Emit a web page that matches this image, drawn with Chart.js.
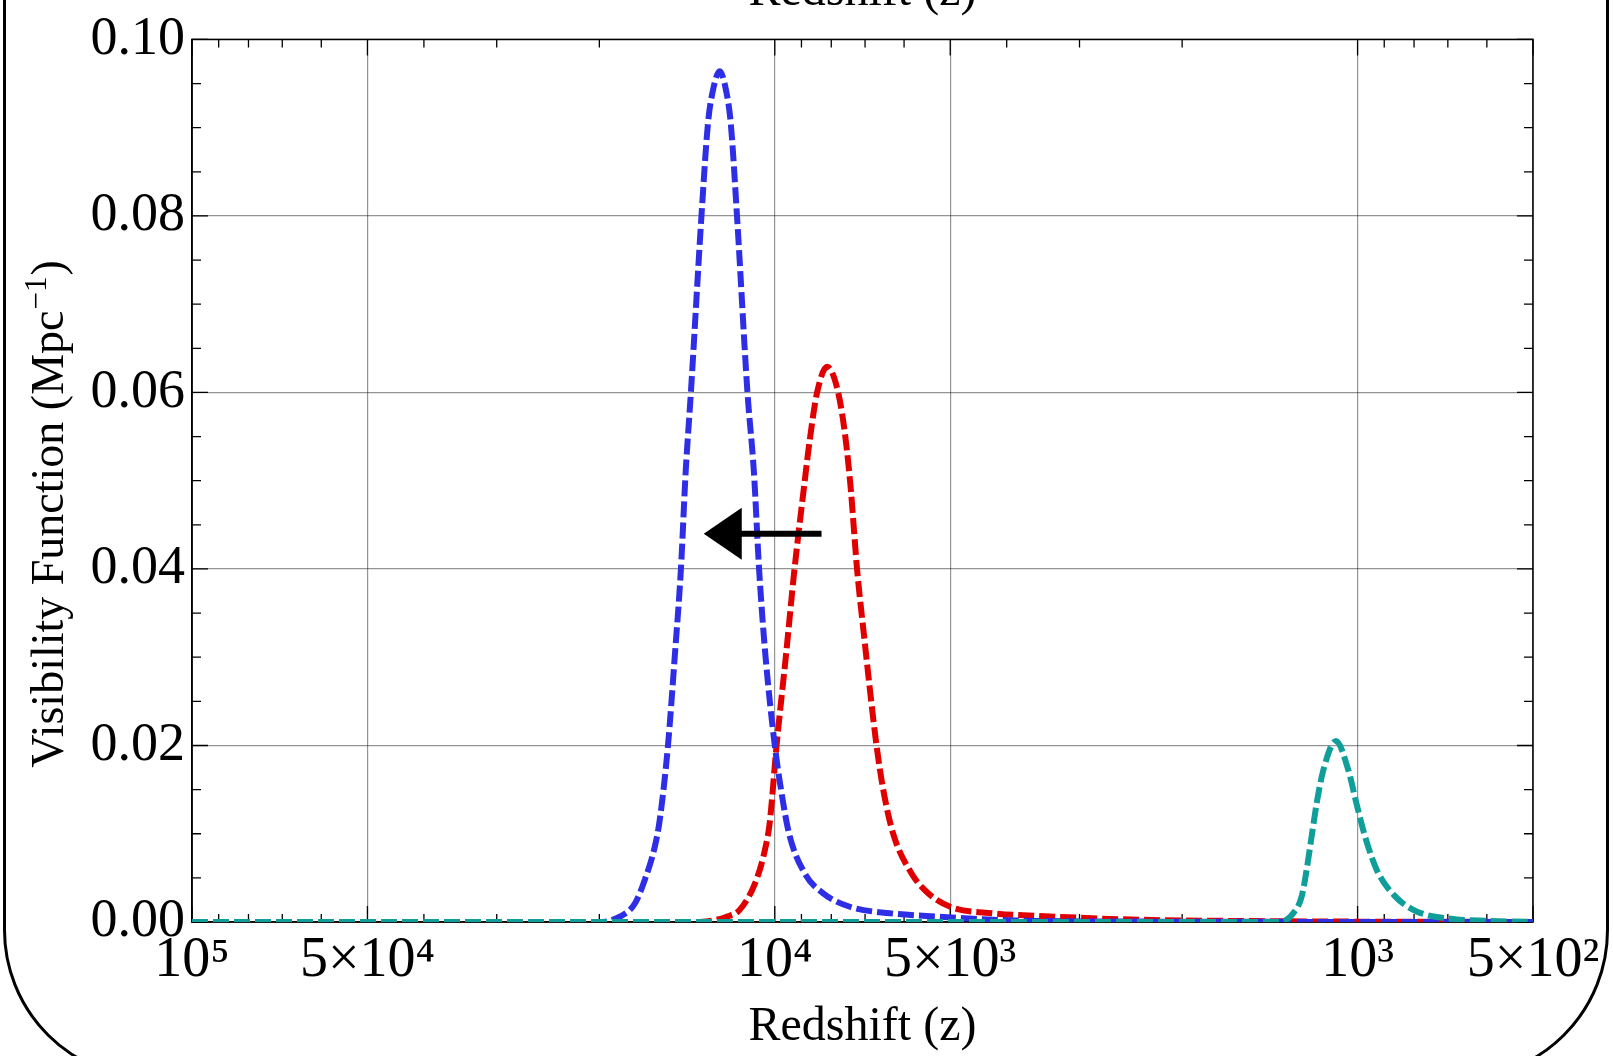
<!DOCTYPE html>
<html><head><meta charset="utf-8">
<script src="https://cdn.jsdelivr.net/npm/chart.js@4.4.1/dist/chart.umd.min.js"></script>
<style>
html,body{margin:0;padding:0;background:#fff;overflow:hidden;width:1613px;height:1056px;}
#wrap{position:absolute;left:0;top:0;width:1613px;height:1056px;}
#frame{position:absolute;left:3px;top:-300px;width:1606px;height:1380px;border:3px solid #000;border-radius:150px;box-sizing:border-box;pointer-events:none;}
canvas{position:absolute;left:0;top:0;}
</style></head>
<body>
<div id="wrap"><canvas id="c" width="1613" height="1056"></canvas><div id="frame"></div></div>
<script>
// ---- data (redshift z, visibility in Mpc^-1) ----
const blueZ = [100000, 20000, 18450, 17380, 16710, 16070, 15760, 15250, 14850, 14490, 14220, 13930, 13360, 13020, 12760, 12430, 12130, 11900, 11610, 11140, 10860, 10640, 10370, 10000, 9757, 9450, 8882, 8260, 7435, 6350, 5210, 4000, 2500, 500];
const blueV = [0, 0, 0.0006, 0.0021, 0.0048, 0.0085, 0.0115, 0.020, 0.030, 0.040, 0.051, 0.060, 0.080, 0.0905, 0.0943, 0.0964, 0.0943, 0.0905, 0.080, 0.060, 0.051, 0.040, 0.030, 0.020, 0.0150, 0.0100, 0.0055, 0.00325, 0.00173, 0.00099, 0.0006, 0.0002, 0.00005, 0];

const redZ = [100000, 13450, 12100, 11480, 10750, 10370, 10200, 9930, 9575, 9250, 8920, 8710, 8460, 8130, 7785, 7555, 7405, 7225, 7030, 6690, 6515, 6265, 5825, 5455, 5000, 4220, 3285, 2525, 1500, 500];
const redV = [0, 0, 0.0006, 0.0014, 0.0048, 0.0085, 0.0113, 0.020, 0.030, 0.040, 0.049, 0.0546, 0.060, 0.0629, 0.060, 0.0546, 0.049, 0.040, 0.0325, 0.020, 0.0150, 0.0100, 0.0055, 0.00325, 0.00173, 0.00099, 0.0006, 0.0003, 0.0001, 0];

const tealZ = [100000, 1360, 1289, 1247, 1223, 1199, 1175, 1145, 1089, 1037, 1005, 971, 927, 862, 792, 676, 641, 500];
const tealV = [0, 0, 0.0010, 0.0029, 0.0059, 0.0097, 0.0135, 0.0172, 0.0205, 0.0172, 0.0135, 0.0097, 0.0059, 0.0029, 0.0012, 0.0003, 0.0002, 0];

// annotation arrow (tail -> tip)
const arrowZ = [8314, 13240];
const arrowV = [0.044, 0.044];

// axis ticks
const xTickValues = [100000, 50000, 10000, 5000, 1000, 500];
const xTickLabels = ['10\u2075', '5\u00d710\u2074', '10\u2074', '5\u00d710\u00b3', '10\u00b3', '5\u00d710\u00b2'];
const xMinorTicks = [90000, 80000, 70000, 60000, 40000, 30000, 20000, 9000, 8000, 7000, 6000, 4000, 3000, 2000, 900, 800, 700, 600];
const yTickValues = [0, 0.02, 0.04, 0.06, 0.08, 0.10];
const yMinorTicks = [0.005, 0.01, 0.015, 0.025, 0.03, 0.035, 0.045, 0.05, 0.055, 0.065, 0.07, 0.075, 0.085, 0.09, 0.095];

const xTitle = 'Redshift (z)';
const yTitleMain = 'Visibility Function (Mpc';
const yTitleSup = '\u22121';
const yTitleEnd = ')';

const SERIF = '"Liberation Serif", "Times New Roman", serif';
const pts = (zs, vs) => zs.map((z, i) => ({x: z, y: vs[i]}));

const lineStyle = (color) => ({
  borderColor: color, backgroundColor: color, borderWidth: 6, borderDash: [16, 5],
  borderCapStyle: 'butt', pointRadius: 0, fill: false, cubicInterpolationMode: 'monotone'
});

const decor = {
  id: 'decor',
  beforeDatasetsDraw(chart) {
    const {ctx, chartArea: a, scales: {x, y}} = chart;
    ctx.save();
    ctx.strokeStyle = '#000';
    ctx.lineWidth = 1.5;
    ctx.strokeRect(a.left, a.top, a.right - a.left, a.bottom - a.top);
    ctx.lineWidth = 1.3;
    const tickX = (v, len) => {
      const px = x.getPixelForValue(v);
      ctx.beginPath();
      ctx.moveTo(px, a.top); ctx.lineTo(px, a.top + len);
      ctx.moveTo(px, a.bottom); ctx.lineTo(px, a.bottom - len);
      ctx.stroke();
    };
    const tickY = (v, len) => {
      const py = y.getPixelForValue(v);
      ctx.beginPath();
      ctx.moveTo(a.left, py); ctx.lineTo(a.left + len, py);
      ctx.moveTo(a.right, py); ctx.lineTo(a.right - len, py);
      ctx.stroke();
    };
    xTickValues.forEach(v => tickX(v, 16));
    xMinorTicks.forEach(v => tickX(v, 8));
    yTickValues.forEach(v => tickY(v, 16));
    yMinorTicks.forEach(v => tickY(v, 9));
    ctx.restore();
  },
  afterDatasetsDraw(chart) {
    const {ctx, scales: {x, y}} = chart;
    const xs = x.getPixelForValue(arrowZ[0]);
    const xt = x.getPixelForValue(arrowZ[1]);
    const ys = y.getPixelForValue(arrowV[0]);
    const yt = y.getPixelForValue(arrowV[1]);
    ctx.save();
    ctx.strokeStyle = '#000';
    ctx.fillStyle = '#000';
    ctx.lineWidth = 6;
    ctx.beginPath();
    ctx.moveTo(xs, ys); ctx.lineTo(xt + 30, yt);
    ctx.stroke();
    ctx.beginPath();
    ctx.moveTo(xt, yt);
    ctx.lineTo(xt + 38, yt - 26);
    ctx.lineTo(xt + 38, yt + 26);
    ctx.closePath();
    ctx.fill();
    ctx.restore();
  },
  afterDraw(chart) {
    const {ctx, chartArea: a} = chart;
    ctx.save();
    ctx.fillStyle = '#000';
    // top axis title (cut off by the page edge)
    ctx.font = '48px ' + SERIF;
    ctx.textAlign = 'center';
    ctx.textBaseline = 'alphabetic';
    ctx.fillText(xTitle, (a.left + a.right) / 2, 5);
    // y axis title with superscript
    const fs = 46, ss = 31;
    ctx.font = fs + 'px ' + SERIF;
    const w1 = ctx.measureText(yTitleMain).width;
    const w3 = ctx.measureText(yTitleEnd).width;
    ctx.font = ss + 'px ' + SERIF;
    const w2 = ctx.measureText(yTitleSup).width;
    const total = w1 + w2 + w3 + 2;
    ctx.translate(63, 514);
    ctx.rotate(-Math.PI / 2);
    ctx.textAlign = 'left';
    let cx = -total / 2;
    ctx.font = fs + 'px ' + SERIF;
    ctx.fillText(yTitleMain, cx, 0); cx += w1 + 1;
    ctx.font = ss + 'px ' + SERIF;
    ctx.fillText(yTitleSup, cx, -17); cx += w2 + 1;
    ctx.font = fs + 'px ' + SERIF;
    ctx.fillText(yTitleEnd, cx, 0);
    ctx.restore();
  }
};

new Chart(document.getElementById('c'), {
  type: 'line',
  data: {
    datasets: [
      Object.assign({label: 'teal', data: pts(tealZ, tealV)}, lineStyle('#0f9e9a')),
      Object.assign({label: 'blue', data: pts(blueZ, blueV)}, lineStyle('#2e2ee6')),
      Object.assign({label: 'red', data: pts(redZ, redV)}, lineStyle('#e00000'))
    ]
  },
  options: {
    responsive: false, animation: false, devicePixelRatio: 1,
    layout: {padding: {top: 39, right: 80, left: 0, bottom: 0}},
    plugins: {legend: {display: false}, tooltip: {enabled: false}},
    scales: {
      x: {
        type: 'logarithmic', position: 'bottom', reverse: true, min: 500, max: 100000,
        afterBuildTicks: s => { s.ticks = xTickValues.map(v => ({value: v})); },
        afterFit: s => { s.height = 134; },
        ticks: {
          autoSkip: false, maxRotation: 0, padding: 6, color: '#000',
          font: {family: SERIF, size: 56},
          callback: (v, i) => xTickLabels[i]
        },
        grid: {color: 'rgba(0,0,0,0.42)', lineWidth: 1.2, drawTicks: false},
        border: {display: true, color: '#000', width: 1.5},
        title: {display: true, text: xTitle, color: '#000', font: {family: SERIF, size: 48}, padding: {top: 0, bottom: 0}}
      },
      y: {
        type: 'linear', min: 0, max: 0.1,
        afterBuildTicks: s => { s.ticks = yTickValues.map(v => ({value: v})); },
        afterFit: s => { s.width = 192; },
        ticks: {
          padding: 7, color: '#000', font: {family: SERIF, size: 54},
          callback: v => v.toFixed(2)
        },
        grid: {color: 'rgba(0,0,0,0.42)', lineWidth: 1.2, drawTicks: false},
        border: {display: true, color: '#000', width: 1.5}
      }
    }
  },
  plugins: [decor]
});
</script>
</body></html>
